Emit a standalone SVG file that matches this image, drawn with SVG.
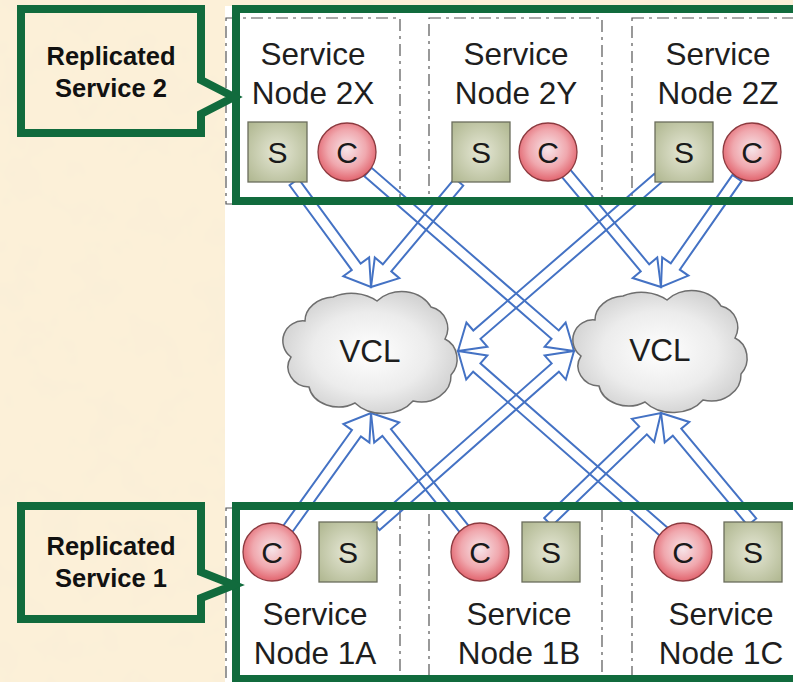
<svg xmlns="http://www.w3.org/2000/svg" width="793" height="682" viewBox="0 0 793 682">
  <style>
    .frame { fill: none; stroke: #555; stroke-width: 1.2; stroke-dasharray: 12 5 3 5; }
    .group { fill: none; stroke: #116b3d; stroke-width: 8; }
    .callout { fill: none; stroke: #116b3d; stroke-width: 8; stroke-linejoin: miter; }
    .arrow { fill: none; stroke: #4472c4; stroke-width: 2; stroke-linejoin: miter; }
    .cloud { fill: url(#cloudFill); stroke: #6e6e6e; stroke-width: 1.5; }
    .sbox { fill: url(#sFill); stroke: #6b6d5c; stroke-width: 1.3; }
    .cdot { fill: url(#cFill); stroke: #8c3a3f; stroke-width: 1.3; }
    .name { font-family: "Liberation Sans", Arial, sans-serif; font-size: 31.5px; fill: #1e1e1e; text-anchor: middle; }
    .tag { font-family: "Liberation Sans", Arial, sans-serif; font-size: 30px; fill: #1a1a1a; text-anchor: middle; }
    .title { font-family: "Liberation Sans", Arial, sans-serif; font-size: 25.5px; font-weight: bold; fill: #111; text-anchor: middle; }
  </style>
  <defs>
    <radialGradient id="cloudFill" cx="50%" cy="50%" r="60%">
      <stop offset="0" stop-color="#ffffff"/>
      <stop offset="0.55" stop-color="#ececec"/>
      <stop offset="1" stop-color="#c9c9c9"/>
    </radialGradient>
    <radialGradient id="sFill" cx="50%" cy="50%" r="65%">
      <stop offset="0" stop-color="#e6e8d6"/>
      <stop offset="1" stop-color="#b2b993"/>
    </radialGradient>
    <radialGradient id="cFill" cx="50%" cy="45%" r="55%">
      <stop offset="0" stop-color="#f7e4e8"/>
      <stop offset="0.6" stop-color="#f0a8ae"/>
      <stop offset="1" stop-color="#e2646e"/>
    </radialGradient>
    <filter id="parchment" x="0" y="0" width="100%" height="100%">
      <feTurbulence type="fractalNoise" baseFrequency="0.025" numOctaves="3" seed="7"/>
      <feColorMatrix type="matrix" values="0 0 0 0 0.94  0 0 0 0 0.85  0 0 0 0 0.68  1.6 0 0 0 -0.75"/>
    </filter>
    <!-- cloud outline centred on the origin, about 172 x 118 -->
    <path id="cloudShape" d="M -66,-28 A 30 24 0 0 1 -38,-52 A 38 30 0 0 1 6,-48 A 32 26 0 0 1 60,-42 A 22 22 0 0 1 74,-10 A 20 22 0 0 1 80,26 A 30 26 0 0 1 42,52 A 36 28 0 0 1 -16,54 A 30 24 0 0 1 -62,38 A 22 20 0 0 1 -80,8 A 20 20 0 0 1 -66,-28 Z"/>
  </defs>

  <!-- parchment backdrop and white drawing area -->
  <rect x="0" y="0" width="793" height="682" fill="#fcf0d8"/>
  <rect x="0" y="0" width="793" height="682" filter="url(#parchment)"/>
  <rect x="225" y="6" width="568" height="676" fill="#ffffff"/>

  <!-- node frames (dashed) -->
  <g id="frames">
    <rect class="frame" x="226" y="18" width="174" height="186"/>
    <rect class="frame" x="429" y="18" width="173" height="186"/>
    <rect class="frame" x="632" y="18" width="174" height="186"/>
    <rect class="frame" x="226" y="508" width="174" height="186"/>
    <rect class="frame" x="429" y="508" width="173" height="186"/>
    <rect class="frame" x="632" y="508" width="174" height="186"/>
  </g>

  <!-- block arrows into the two VCL clouds -->
  <g id="connectors">
    <!-- S 2X -> left VCL -->
    <polygon class="arrow" points="289.56,185.25 351.77,270.09 343.31,276.30 371,287 369.11,257.38 360.65,263.59 298.44,178.75"/>
    <!-- S 2Y -> left VCL -->
    <polygon class="arrow" points="454.78,178.47 382.84,264.31 374.80,257.56 371,287 399.32,278.12 391.28,271.37 463.22,185.53"/>
    <!-- C 2X -> right VCL -->
    <polygon class="arrow" points="364.39,176.15 551.52,338.75 544.64,346.68 574,351 565.62,322.52 558.74,330.45 371.61,167.85"/>
    <!-- C 2Y -> right VCL -->
    <polygon class="arrow" points="560.78,175.52 640.76,271.33 632.70,278.06 661,287 657.26,257.56 649.20,264.29 569.22,168.48"/>
    <!-- S 2Z -> left VCL -->
    <polygon class="arrow" points="654.40,173.84 473.31,330.48 466.44,322.54 458,351 487.38,346.74 480.51,338.80 661.60,182.16"/>
    <!-- C 2Z -> right VCL -->
    <polygon class="arrow" points="732.49,174.85 670.79,263.34 662.18,257.34 661,287 688.42,275.64 679.81,269.64 741.51,181.15"/>
    <!-- C 1A -> left VCL -->
    <polygon class="arrow" points="291.47,533.21 360.89,436.52 369.42,442.64 371,413 343.42,423.98 351.95,430.10 282.53,526.79"/>
    <!-- S 1A -> right VCL -->
    <polygon class="arrow" points="379.64,530.12 558.91,371.67 565.86,379.54 574,351 544.68,355.56 551.63,363.43 372.36,521.88"/>
    <!-- C 1B -> left VCL -->
    <polygon class="arrow" points="469.29,526.56 390.95,429.05 399.13,422.47 371,413 374.19,442.51 382.37,435.93 460.71,533.44"/>
    <!-- S 1B -> right VCL -->
    <polygon class="arrow" points="551.82,525.96 646.83,434.32 654.12,441.88 661,413 631.90,418.84 639.19,426.40 544.18,518.04"/>
    <!-- C 1C -> left VCL -->
    <polygon class="arrow" points="667.63,527.87 480.41,363.37 487.34,355.48 458,351 466.22,379.52 473.15,371.63 660.37,536.13"/>
    <!-- S 1C -> right VCL -->
    <polygon class="arrow" points="756.22,518.48 681.24,428.67 689.30,421.94 661,413 664.74,442.44 672.80,435.71 747.78,525.52"/>
  </g>

  <!-- VCL clouds -->
  <g id="vcl-left">
    <use href="#cloudShape" class="cloud" transform="translate(371,349)"/>
    <text class="name" x="370" y="362">VCL</text>
  </g>
  <g id="vcl-right">
    <use href="#cloudShape" class="cloud" transform="translate(661,348)"/>
    <text class="name" x="660" y="361">VCL</text>
  </g>

  <!-- Replicated Service 2 nodes -->
  <g id="node-2x">
    <text class="name" x="313" y="65">Service</text>
    <text class="name" x="313" y="104">Node 2X</text>
    <rect class="sbox" x="248" y="122" width="59" height="60"/>
    <text class="tag" x="277.5" y="163">S</text>
    <circle class="cdot" cx="347" cy="152" r="29"/>
    <text class="tag" x="347" y="163">C</text>
  </g>
  <g id="node-2y">
    <text class="name" x="516" y="65">Service</text>
    <text class="name" x="516" y="104">Node 2Y</text>
    <rect class="sbox" x="452" y="122" width="58" height="60"/>
    <text class="tag" x="481" y="163">S</text>
    <circle class="cdot" cx="548" cy="152" r="29"/>
    <text class="tag" x="548" y="163">C</text>
  </g>
  <g id="node-2z">
    <text class="name" x="718" y="65">Service</text>
    <text class="name" x="718" y="104">Node 2Z</text>
    <rect class="sbox" x="655" y="122" width="58" height="60"/>
    <text class="tag" x="684" y="163">S</text>
    <circle class="cdot" cx="752" cy="152" r="29"/>
    <text class="tag" x="752" y="163">C</text>
  </g>

  <!-- Replicated Service 1 nodes -->
  <g id="node-1a">
    <circle class="cdot" cx="272" cy="552" r="29"/>
    <text class="tag" x="272" y="563">C</text>
    <rect class="sbox" x="319" y="522" width="58" height="60"/>
    <text class="tag" x="348" y="563">S</text>
    <text class="name" x="315" y="625">Service</text>
    <text class="name" x="315" y="664">Node 1A</text>
  </g>
  <g id="node-1b">
    <circle class="cdot" cx="480" cy="552" r="29"/>
    <text class="tag" x="480" y="563">C</text>
    <rect class="sbox" x="522" y="522" width="58" height="60"/>
    <text class="tag" x="551" y="563">S</text>
    <text class="name" x="519" y="625">Service</text>
    <text class="name" x="519" y="664">Node 1B</text>
  </g>
  <g id="node-1c">
    <circle class="cdot" cx="683" cy="552" r="29"/>
    <text class="tag" x="683" y="563">C</text>
    <rect class="sbox" x="724" y="522" width="58" height="60"/>
    <text class="tag" x="753" y="563">S</text>
    <text class="name" x="721" y="625">Service</text>
    <text class="name" x="721" y="664">Node 1C</text>
  </g>

  <!-- group outlines -->
  <g id="service-2-group">
    <rect class="group" x="236" y="9" width="570" height="192"/>
  </g>
  <g id="service-1-group">
    <rect class="group" x="236" y="506" width="570" height="173"/>
  </g>

  <!-- callouts -->
  <g id="callout-service-2">
    <path class="callout" d="M 21,9 H 201 V 80 L 234,97 L 201,114 V 133 H 21 Z"/>
    <text class="title" x="111" y="65">Replicated</text>
    <text class="title" x="111" y="97">Service 2</text>
  </g>
  <g id="callout-service-1">
    <path class="callout" d="M 21,506 H 201 V 572 L 234,585 L 201,598 V 619 H 21 Z"/>
    <text class="title" x="111" y="555">Replicated</text>
    <text class="title" x="111" y="587">Service 1</text>
  </g>
</svg>
